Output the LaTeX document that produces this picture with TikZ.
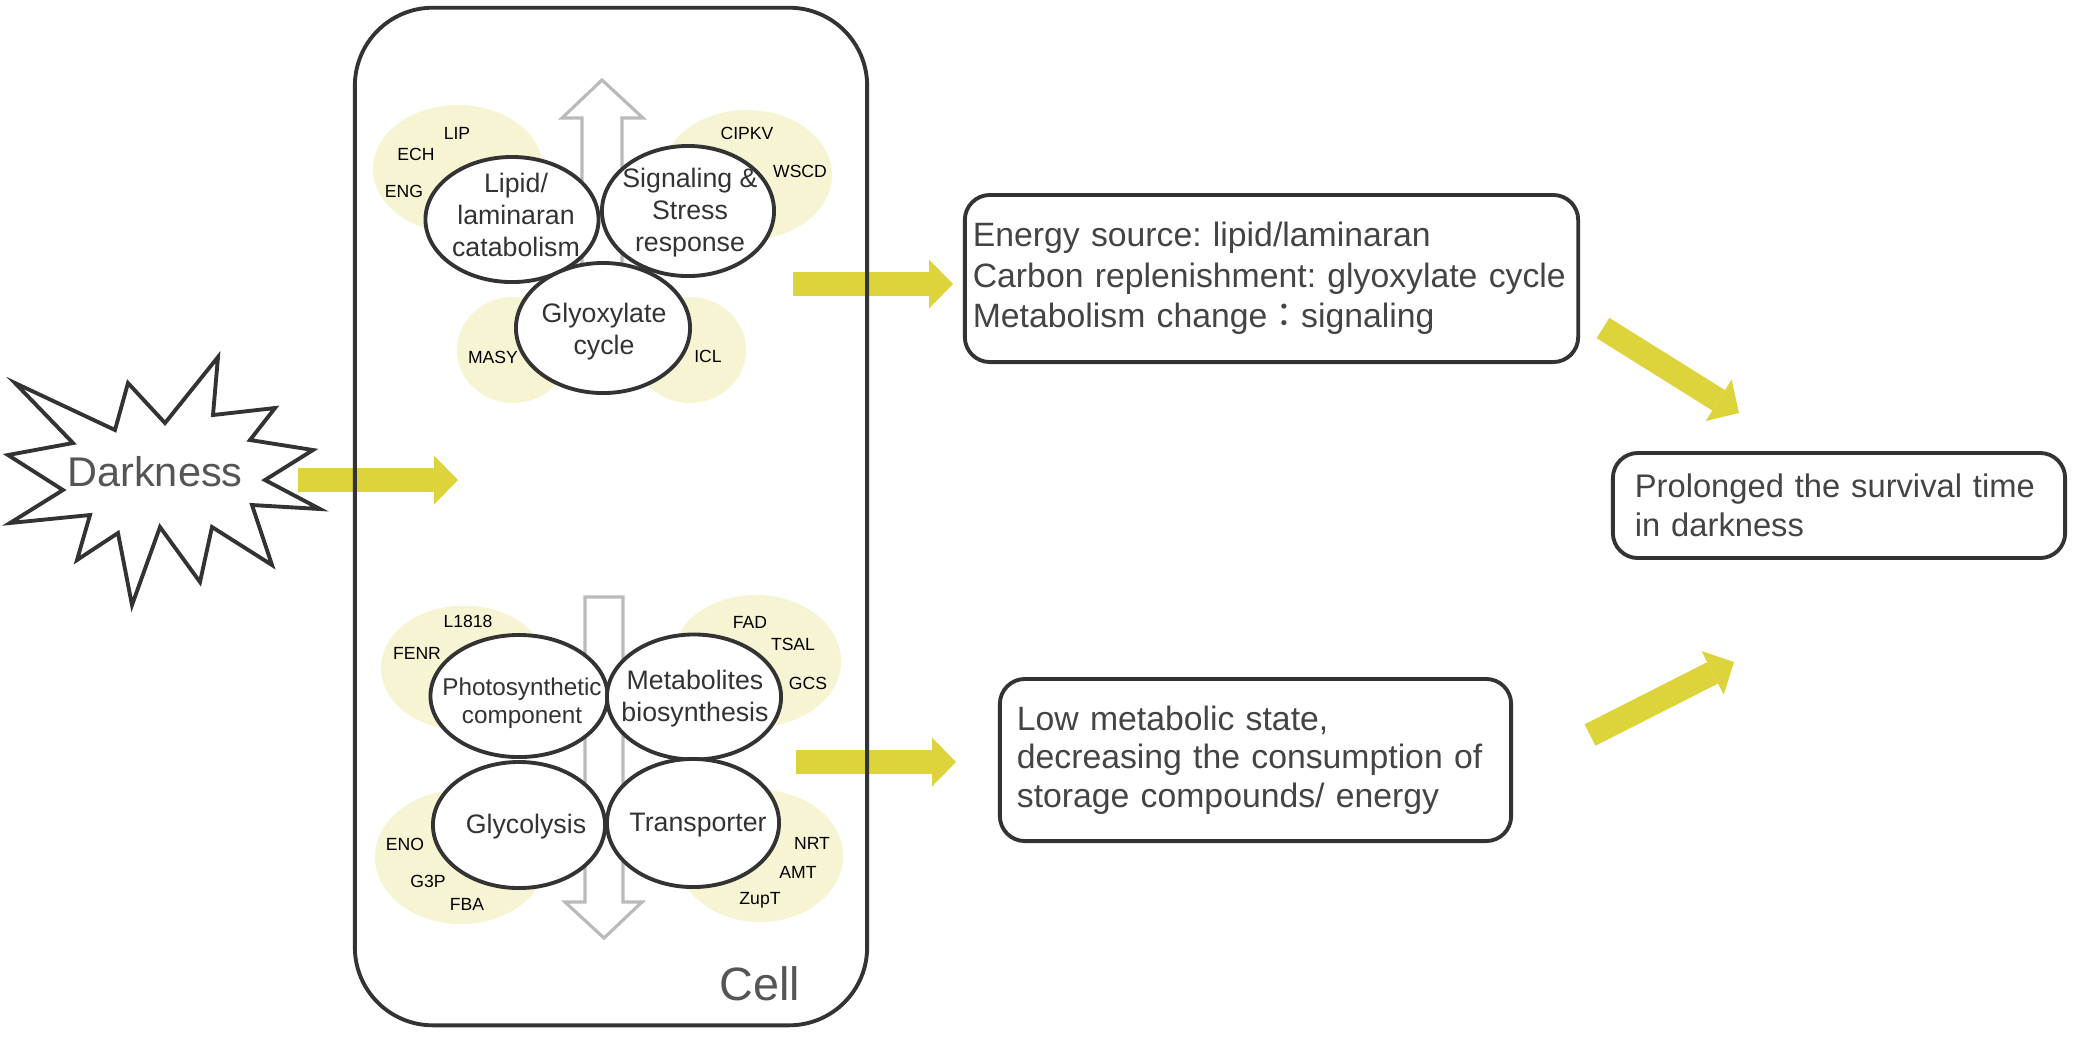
\documentclass[tikz,border=0pt]{standalone}
\usepackage{fontspec}
\setmainfont{Liberation Sans}
\newfontfamily\cjkfont{Noto Sans CJK JP}
\usetikzlibrary{arrows.meta}
\usetikzlibrary{shapes.geometric}
\frenchspacing

\definecolor{arrowyellow}{RGB}{221,212,60}
\definecolor{paleyellow}{RGB}{246,244,211}
\definecolor{hollowgray}{RGB}{186,186,186}
\definecolor{inkgray}{RGB}{51,51,51}
\definecolor{textgray}{RGB}{68,68,68}
\definecolor{labelgray}{RGB}{85,85,85}

\begin{document}
\begin{tikzpicture}[x=0.01cm,y=-0.01cm,
    bgell/.style={ellipse,fill=paleyellow,inner sep=0pt},
    procell/.style={ellipse,draw=inkgray,fill=white,line width=1.1pt,inner sep=0pt},
    proctext/.style={align=center,text=inkgray,inner sep=0pt,font=\fontsize{7.6}{9.1}\selectfont},
    gene/.style={inner sep=0pt,font=\fontsize{5}{6}\selectfont},
    notebox/.style={draw=inkgray,line width=1.1pt,rounded corners=0.25cm,align=left,text=textgray},
    hollow/.style={draw=hollowgray,line width=0.9pt,fill=white,line join=miter},
    yarrow/.style={draw=arrowyellow,line width=0.24cm,-{Triangle[length=0.24cm,width=0.49cm,line width=0pt]}}]
    \useasboundingbox (0,0) rectangle (2076,1044);
    % end points of the yellow arrows
    \coordinate (darktail) at (298,480);
    \coordinate (darktip) at (458,480);
    \coordinate (uptail) at (793,284);
    \coordinate (uptip) at (953,284);
    \coordinate (lowtail) at (796,762);
    \coordinate (lowtip) at (956,762);
    \coordinate (energytail) at (1603,328);
    \coordinate (energytip) at (1739,413);
    \coordinate (statetail) at (1590,735);
    \coordinate (statetip) at (1734,662);
    \draw[yarrow] (darktail) -- (darktip);
    \draw[yarrow] (uptail) -- (uptip);
    \draw[yarrow] (lowtail) -- (lowtip);
    \draw[yarrow] (energytail) -- (energytip);
    \draw[yarrow] (statetail) -- (statetip);
    % darkness burst
    \draw[draw=inkgray,line width=1.1pt,fill=white,line join=miter] (15,383) -- (115,430) -- (128,383) -- (165,423) -- (218,357) -- (213,415) -- (275,408) -- (250,440) -- (313,450) -- (265,480) -- (320,509) -- (252,505) -- (272,565) -- (212,527) -- (200,582) -- (160,527) -- (132,605) -- (118,533) -- (77,560) -- (90,515) -- (10,523) -- (63,490) -- (8,455) -- (73,443) -- cycle;
    \node[text=labelgray,font=\fontsize{11.8}{14}\selectfont] (dark) at (155,472) {Darkness};
    % pale backgrounds
    \node[bgell,minimum width=1.70cm,minimum height=1.28cm] (lipbg) at (458,169) {};
    \node[bgell,minimum width=1.70cm,minimum height=1.30cm] (sigbg) at (747,175) {};
    \node[bgell,minimum width=1.12cm,minimum height=1.06cm] (masybg) at (513,350) {};
    \node[bgell,minimum width=1.12cm,minimum height=1.06cm] (iclbg) at (690,350) {};
    \node[bgell,minimum width=1.66cm,minimum height=1.25cm] (photobg) at (464,668) {};
    \node[bgell,minimum width=1.70cm,minimum height=1.32cm] (metabg) at (756,661) {};
    \node[bgell,minimum width=1.72cm,minimum height=1.34cm] (glycbg) at (461,857) {};
    \node[bgell,minimum width=1.66cm,minimum height=1.32cm] (transbg) at (760,856) {};
    % hollow arrows
    \draw[hollow] (582,342) -- (582,118) -- (562,118) -- (602,80) -- (643,118) -- (622,118) -- (622,342) -- cycle;
    \draw[hollow] (585,597) -- (585,902) -- (565,902) -- (604,938) -- (642,902) -- (623,902) -- (623,597) -- cycle;
    % processes
    \node[procell,minimum width=1.73cm,minimum height=1.25cm] (lipid) at (512,219.5) {};
    \node[procell,minimum width=1.72cm,minimum height=1.30cm] (signal) at (688,211) {};
    \node[procell,minimum width=1.74cm,minimum height=1.30cm] (glyox) at (603,328) {};
    \node[procell,minimum width=1.77cm,minimum height=1.22cm] (photo) at (519,696) {};
    \node[procell,minimum width=1.74cm,minimum height=1.25cm] (meta) at (694,697) {};
    \node[procell,minimum width=1.72cm,minimum height=1.26cm] (glyc) at (519,825) {};
    \node[procell,minimum width=1.72cm,minimum height=1.28cm] (trans) at (693,823) {};
    \node[proctext] (lipidtxt) at (516,215) {Lipid/\\laminaran\\catabolism};
    \node[proctext] (signaltxt) at (690,213) {Signaling \&\\Stress\\response};
    \node[proctext] (glyoxtxt) at (604,332) {Glyoxylate\\cycle};
    \node[proctext,font=\fontsize{6.9}{7.8}\selectfont] (phototxt) at (522,703) {Photosynthetic\\component};
    \node[proctext] (metatxt) at (695,699) {Metabolites\\biosynthesis};
    \node[proctext] (glyctxt) at (526,827) {Glycolysis};
    \node[proctext] (transtxt) at (698,825) {Transporter};
    % genes
    \node[gene] (lip) at (457,133) {LIP};
    \node[gene] (ech) at (416,154) {ECH};
    \node[gene] (eng) at (404,191) {ENG};
    \node[gene] (cipkv) at (747,133) {CIPKV};
    \node[gene] (wscd) at (800,171) {WSCD};
    \node[gene] (masy) at (493,357) {MASY};
    \node[gene] (icl) at (708,356) {ICL};
    \node[gene] (l1818) at (468,621) {L1818};
    \node[gene] (fenr) at (417,653) {FENR};
    \node[gene] (fad) at (750,622) {FAD};
    \node[gene] (tsal) at (793,644) {TSAL};
    \node[gene] (gcs) at (808,683) {GCS};
    \node[gene] (eno) at (405,844) {ENO};
    \node[gene] (g3p) at (428,881) {G3P};
    \node[gene] (fba) at (467,904) {FBA};
    \node[gene] (nrt) at (812,843) {NRT};
    \node[gene] (amt) at (798,872) {AMT};
    \node[gene,anchor=base] (zupt) at (760,904) {ZupT};
    % cell
    \node[draw=inkgray,line width=1.1pt,rounded corners=0.78cm,minimum width=5.12cm,minimum height=10.17cm] (cell) at (611,516.5) {};
    \node[anchor=base,text=labelgray,font=\fontsize{13.3}{16}\selectfont] (celltag) at (760,1000) {Cell};
    % outcome boxes
    \node[notebox,minimum height=1.67cm,text width=5.97cm,inner xsep=0.08cm,font=\fontsize{9.6}{11.5}\selectfont] (energy) at (1271.5,278.5) {Energy source: lipid/laminaran\\Carbon replenishment: glyoxylate cycle\\Metabolism change{\cjkfont ：}signaling};
    \node[notebox,minimum height=1.62cm,text width=4.77cm,inner xsep=0.17cm,font=\fontsize{9.6}{10.9}\selectfont] (state) at (1255.5,760) {Low metabolic state,\\decreasing the consumption of\\storage compounds/ energy};
    \node[notebox,minimum height=1.05cm,text width=4.08cm,inner xsep=0.22cm,font=\fontsize{9.3}{11.2}\selectfont] (survival) at (1839,505.5) {Prolonged the survival time\\in darkness};
\end{tikzpicture}
\end{document}
